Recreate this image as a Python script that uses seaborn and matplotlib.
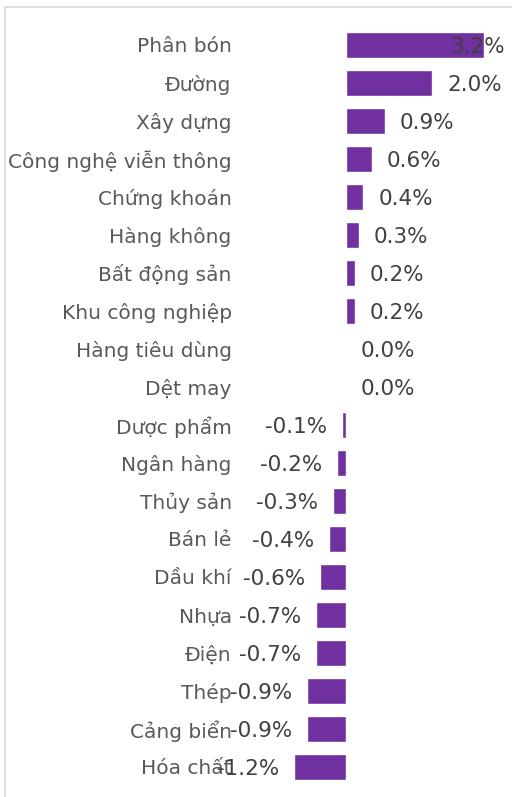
import numpy as np
import seaborn as sns
import matplotlib.pyplot as plt
from matplotlib.lines import Line2D

categories = ["Phân bón", "Đường", "Xây dựng", "Công nghệ viễn thông", "Chứng khoán",
              "Hàng không", "Bất động sản", "Khu công nghiệp", "Hàng tiêu dùng", "Dệt may",
              "Dược phẩm", "Ngân hàng", "Thủy sản", "Bán lẻ", "Dầu khí",
              "Nhựa", "Điện", "Thép", "Cảng biển", "Hóa chất"]
values = [3.2, 2.0, 0.9, 0.6, 0.4, 0.3, 0.2, 0.2, 0.0, 0.0,
          -0.1, -0.2, -0.3, -0.4, -0.6, -0.7, -0.7, -0.9, -0.9, -1.2]
value_labels = [f"{v:.1f}%" for v in values]

sns.set_style("white")
plt.rcParams['font.family'] = ['DejaVu Sans']

fig = plt.figure(figsize=(5.12, 7.97), dpi=100)
ax = fig.add_axes([240/512, 11/797, 265/512, 760/797])

sns.barplot(x=values, y=categories, orient="h", color="#7030A0", width=0.66,
            saturation=1, ax=ax)

ax.set_xlim(-106/43, 159/43)
ax.set_ylim(19.5, -0.5)
for s in ax.spines.values():
    s.set_visible(False)
ax.set_xticks([])
ax.tick_params(axis="y", length=0, pad=6, labelsize=14.5, labelcolor="#595959")
ax.set_xlabel("")
ax.set_ylabel("")

off = 15/43
for i, (v, lab) in enumerate(zip(values, value_labels)):
    if v >= 3:
        ax.text(159/43, i + 0.05, lab, ha="right", va="center", fontsize=15.5, color="#404040")
    elif v >= 0:
        ax.text(v + off, i + 0.05, lab, ha="left", va="center", fontsize=15.5, color="#404040")
    else:
        ax.text(v - off, i + 0.05, lab, ha="right", va="center", fontsize=15.5, color="#404040")

# light frame at top and left
fig.add_artist(Line2D([5/512, 1], [1 - 7/797, 1 - 7/797], transform=fig.transFigure,
                      color="#D9D9D9", lw=1.2))
fig.add_artist(Line2D([5/512, 5/512], [0, 1 - 7/797], transform=fig.transFigure,
                      color="#D9D9D9", lw=1.2))

fig.savefig("out.png", dpi=100)
